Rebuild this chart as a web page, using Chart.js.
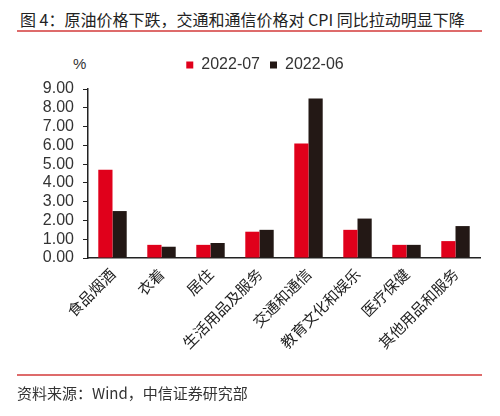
<!DOCTYPE html>
<html>
<head>
<meta charset="utf-8">
<script src="https://cdn.jsdelivr.net/npm/chart.js@4"></script>
<style>
  html, body { margin: 0; padding: 0; background: #fff; overflow: hidden; }
  #wrap { position: relative; width: 500px; height: 416px; }
  .title { position: absolute; left: 20px; top: 7px; font: 16px "Noto Sans CJK SC", sans-serif; color: #222; white-space: nowrap; }
  .rule { position: absolute; left: 17px; width: 465px; height: 2px; background: #de6b6b; }
  .source { position: absolute; left: 17px; top: 382px; font: 15px "Noto Sans CJK SC", sans-serif; color: #333; white-space: nowrap; }
  .unit { position: absolute; left: 73px; top: 55px; font: 15px "Liberation Sans", Arial, sans-serif; color: #333; }
  canvas { position: absolute; left: 0; top: 0; }
</style>
</head>
<body>
<div id="wrap">
  <div class="title">图 4：原油价格下跌，交通和通信价格对 CPI 同比拉动明显下降</div>
  <div class="rule" style="top:30px"></div>
  <div class="unit">%</div>
  <canvas id="cpiChart" width="500" height="416"></canvas>
  <div class="rule" style="top:374px"></div>
  <div class="source">资料来源：Wind，中信证券研究部</div>
</div>
<script>
// ---- 数据 ----
const categories = ["食品烟酒", "衣着", "居住", "生活用品及服务", "交通和通信", "教育文化和娱乐", "医疗保健", "其他用品和服务"];
const jul2022 = [4.7, 0.7, 0.7, 1.4, 6.1, 1.5, 0.7, 0.9];
const jun2022 = [2.5, 0.6, 0.8, 1.5, 8.5, 2.1, 0.7, 1.7];
const yTicks = [0, 1, 2, 3, 4, 5, 6, 7, 8, 9];

Chart.defaults.font.family = "'Liberation Sans', Arial, sans-serif";
Chart.defaults.color = "#333";

// legend sits a little right of centre and closer to the title in the original
const nudgeLegend = {
  id: "nudgeLegend",
  afterLayout(chart) {
    chart.legend.left += 50;
    chart.legend.top -= 6;
  },
};

const ctx = document.getElementById("cpiChart").getContext("2d");
new Chart(ctx, {
  type: "bar",
  data: {
    labels: categories,
    datasets: [
      { label: "2022-07", data: jul2022, backgroundColor: "#e0001b", categoryPercentage: 0.58, barPercentage: 1 },
      { label: "2022-06", data: jun2022, backgroundColor: "#231815", categoryPercentage: 0.58, barPercentage: 1 },
    ],
  },
  options: {
    responsive: false,
    animation: false,
    layout: { padding: { left: 0, right: 20, top: 53, bottom: 46 } },
    plugins: {
      legend: {
        position: "top",
        labels: { boxWidth: 7, boxHeight: 7, padding: 10, color: "#333", font: { size: 16 } },
      },
      tooltip: { enabled: false },
    },
    scales: {
      x: {
        grid: { display: false, drawOnChartArea: false, drawTicks: true, tickLength: 5, offset: true, color: "#222" },
        border: { color: "#222", width: 1.5 },
        ticks: {
          maxRotation: 45, minRotation: 45, color: "#222", padding: 2,
          font: { family: "'Noto Sans CJK SC', sans-serif", size: 15 },
        },
        afterFit: s => { s.height = 112; },
      },
      y: {
        min: 0, max: 9,
        afterBuildTicks: s => { s.ticks = yTicks.map(v => ({ value: v })); },
        grid: { drawOnChartArea: false, drawTicks: true, tickLength: 5, color: "#222" },
        border: { color: "#222", width: 1.5 },
        ticks: { autoSkip: false, color: "#333", padding: 9, font: { size: 16 }, callback: v => v.toFixed(2) },
        afterFit: s => { s.width = 88; },
      },
    },
  },
  plugins: [nudgeLegend],
});
</script>
</body>
</html>
